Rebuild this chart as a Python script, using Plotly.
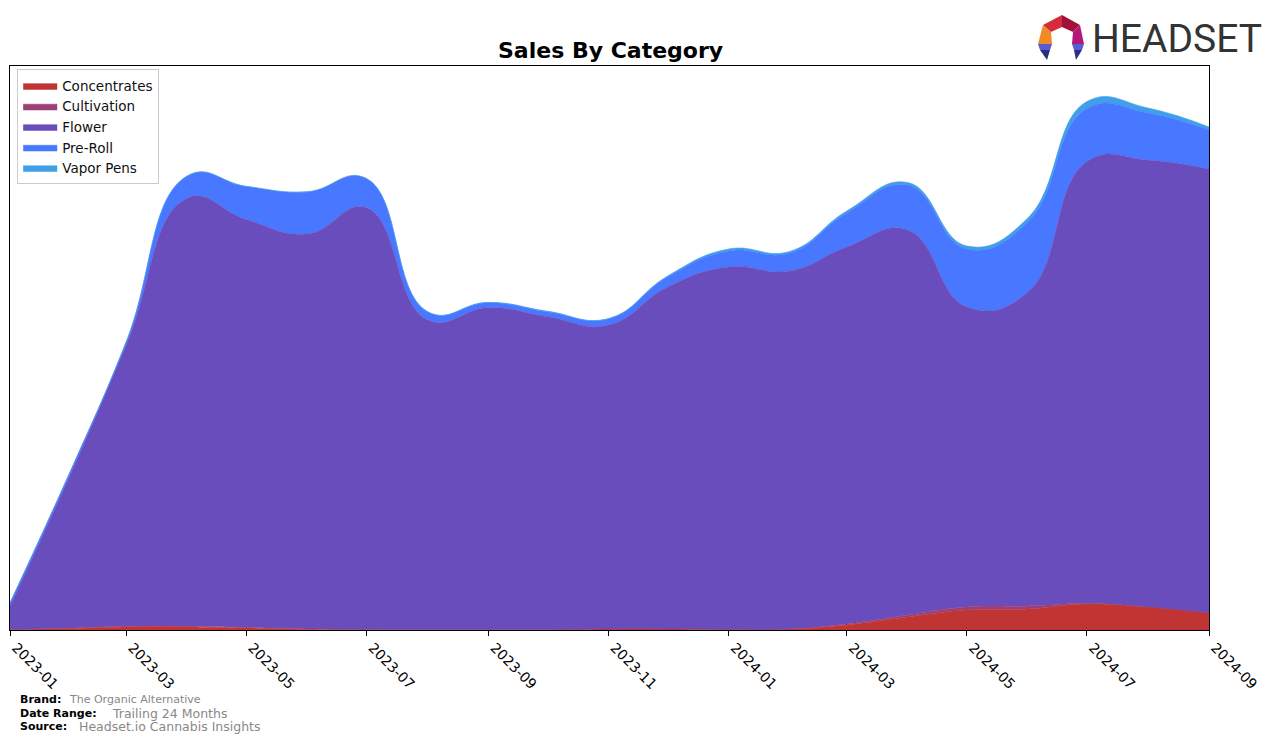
import plotly.graph_objects as go

W, H = 1276, 743
L, R, T, B = 10, 1209, 66, 630  # plot area in pixels

months = ["2023-01", "2023-02", "2023-03", "2023-04", "2023-05", "2023-06", "2023-07",
          "2023-08", "2023-09", "2023-10", "2023-11", "2023-12", "2024-01", "2024-02",
          "2024-03", "2024-04", "2024-05", "2024-06", "2024-07", "2024-08", "2024-09"]

concentrates = [0.3, 1.5, 3.0, 3.0, 2.0, 0.8, 0.3, 0.2, 0.2, 0.3, 1.0, 1.0, 0.5, 1.0,
                5.0, 13.0, 20.0, 21.0, 26.0, 23.0, 17.0]
cultivation = [0.0, 0.5, 0.8, 0.8, 0.5, 0.3, 0.1, 0.0, 0.0, 0.0, 0.0, 0.0, 0.0, 0.0,
               1.0, 2.0, 3.0, 3.0, 0.5, 0.0, 0.0]
flower = [23.5, 155, 281, 428, 408, 395, 422, 310, 322, 313, 304, 342, 362.5, 358,
          377, 385, 300, 314, 442, 447, 444]
pre_roll = [3, 3, 3, 22, 33, 42, 29, 8, 5, 5, 6, 10, 16, 18,
            34, 45, 58, 70, 53, 47, 39]
vapor_pens = [0.5, 0.3, 0.3, 0.3, 0.2, 0.2, 0.2, 0.2, 0.5, 0.5, 0.5, 1.0, 2.0, 1.5,
              2.0, 2.5, 3.0, 4.0, 7.0, 5.0, 3.0]

series = [
    ("Concentrates", concentrates, "#C13434"),
    ("Cultivation", cultivation, "#9A3F78"),
    ("Flower", flower, "#6A4DBD"),
    ("Pre-Roll", pre_roll, "#4878FF"),
    ("Vapor Pens", vapor_pens, "#3F9FE8"),
]

tick_months = months[::2]

x_dates = [m + "-01" for m in months]

fig = go.Figure()
for name, vals, col in series:
    fig.add_trace(go.Scatter(
        x=x_dates, y=vals, name=name, mode="lines",
        stackgroup="one", line=dict(color=col, width=0.6, shape="spline", smoothing=1.3),
        fillcolor=col,
    ))


def px(xp):
    return (xp - L) / (R - L)


def py(yp):
    return (B - yp) / (B - T)


shapes = []
logo_polys = [
    ([(1043, 25), (1062, 15), (1062, 27), (1051, 32)], "#D52B3A"),
    ([(1062, 15), (1080, 25), (1073, 32), (1062, 27)], "#A3113A"),
    ([(1043, 25), (1051, 32), (1052, 44), (1038, 44)], "#F08A24"),
    ([(1080, 25), (1084, 44), (1072, 44), (1073, 32)], "#B3177A"),
    ([(1038, 44), (1052, 44), (1050, 50), (1040, 50)], "#5A5AD2"),
    ([(1040, 50), (1050, 50), (1047, 60)], "#2C2F7C"),
    ([(1072, 44), (1084, 44), (1082, 50), (1074, 50)], "#5A5AD2"),
    ([(1074, 50), (1082, 50), (1076, 60)], "#2C2F7C"),
]
for pts, col in logo_polys:
    path = "M " + " L ".join(f"{px(a):.5f},{py(b):.5f}" for a, b in pts) + " Z"
    shapes.append(dict(type="path", path=path, xref="paper", yref="paper",
                       fillcolor=col, line=dict(width=0), layer="above"))

annotations = [
    dict(text="<b>Sales By Category</b>", x=px(610), y=py(51), xref="paper", yref="paper",
         showarrow=False, xanchor="center", yanchor="middle",
         font=dict(family="DejaVu Sans", size=22, color="black")),
    dict(text="HEADSET", x=px(1090), y=py(39), xref="paper", yref="paper",
         showarrow=False, xanchor="left", yanchor="middle",
         font=dict(family="Roboto", size=39, color="#333333")),
    dict(text="<b>Brand:</b>", x=px(18), y=py(699), xref="paper", yref="paper",
         showarrow=False, xanchor="left", yanchor="middle",
         font=dict(family="DejaVu Sans", size=11, color="black")),
    dict(text="The Organic Alternative", x=px(67), y=py(699), xref="paper", yref="paper",
         showarrow=False, xanchor="left", yanchor="middle",
         font=dict(family="DejaVu Sans", size=11, color="#888888")),
    dict(text="<b>Date Range:</b>", x=px(18), y=py(713), xref="paper", yref="paper",
         showarrow=False, xanchor="left", yanchor="middle",
         font=dict(family="DejaVu Sans", size=11, color="black")),
    dict(text="Trailing 24 Months", x=px(110), y=py(713), xref="paper", yref="paper",
         showarrow=False, xanchor="left", yanchor="middle",
         font=dict(family="DejaVu Sans", size=12.5, color="#888888")),
    dict(text="<b>Source:</b>", x=px(18), y=py(726), xref="paper", yref="paper",
         showarrow=False, xanchor="left", yanchor="middle",
         font=dict(family="DejaVu Sans", size=11, color="black")),
    dict(text="Headset.io Cannabis Insights", x=px(77), y=py(726), xref="paper", yref="paper",
         showarrow=False, xanchor="left", yanchor="middle",
         font=dict(family="DejaVu Sans", size=12.5, color="#888888")),
]

fig.update_layout(
    width=W, height=H,
    margin=dict(l=L, r=W - R, t=T, b=H - B, pad=0, autoexpand=False),
    paper_bgcolor="white", plot_bgcolor="white",
    showlegend=True,
    legend=dict(x=0.006, y=0.994, xanchor="left", yanchor="top",
                bgcolor="white", bordercolor="#CCCCCC", borderwidth=1,
                traceorder="normal", font=dict(family="DejaVu Sans", size=13.5, color="#111111"),
                tracegroupgap=0, itemwidth=34),
    xaxis=dict(
        type="date", range=[x_dates[0], x_dates[-1]], automargin=False,
        tickvals=[m + "-01" for m in tick_months], ticktext=tick_months,
        tickangle=45, ticks="outside", ticklen=5, tickcolor="black",
        ticklabelshift=6, ticklabelstandoff=-2,
        showline=True, linecolor="black", linewidth=1, mirror=True,
        showgrid=False, zeroline=False,
        tickfont=dict(family="DejaVu Sans", size=14, color="black"),
    ),
    yaxis=dict(
        range=[0, 564], showticklabels=False, ticks="", automargin=False,
        showline=True, linecolor="black", linewidth=1, mirror=True,
        showgrid=False, zeroline=False,
    ),
    shapes=shapes,
    annotations=annotations,
)

fig.write_html("out.html")
